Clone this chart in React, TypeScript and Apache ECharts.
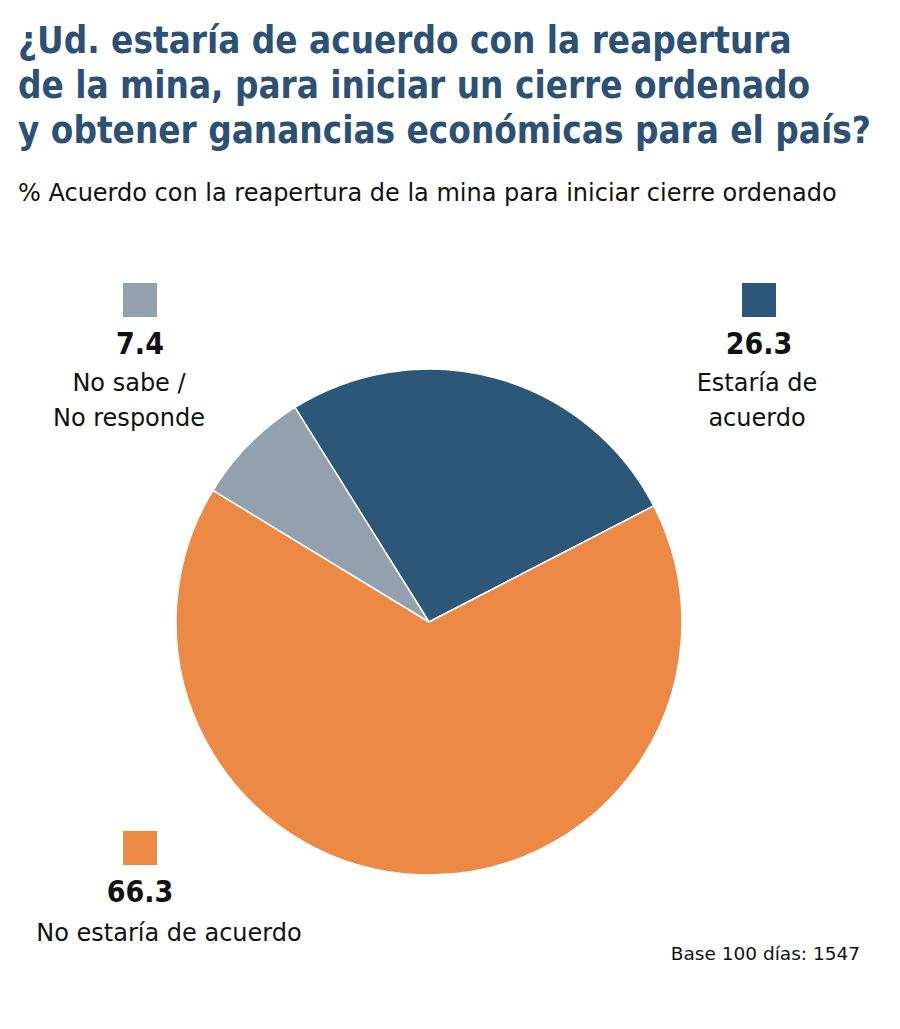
import React, { useEffect, useRef } from "react";
import * as echarts from "echarts";

const categories = ["Estaría de acuerdo", "No estaría de acuerdo", "No sabe / No responde"];
const values = [26.3, 66.3, 7.4];
const colors = ["#2c5779", "#ec8a45", "#93a1ae"];
const labelLines = [["Estaría de", "acuerdo"], ["No estaría de acuerdo"], ["No sabe /", "No responde"]];

const titleLines = [
  "¿Ud. estaría de acuerdo con la reapertura",
  "de la mina, para iniciar un cierre ordenado",
  "y obtener ganancias económicas para el país?",
];
const subtitle = "% Acuerdo con la reapertura de la mina para iniciar cierre ordenado";
const footnote = "Base 100 días: 1547";

const COND = "'DejaVu Sans Condensed', 'Liberation Sans Narrow', 'Roboto', sans-serif";
const REG = "'DejaVu Sans', sans-serif";

export default function App() {
  const ref = useRef<HTMLDivElement>(null);
  useEffect(() => {
    document.body.style.margin = "0";
    const chart = echarts.init(ref.current!, null, { renderer: "svg" });
    const legendPos = [
      { x: 759, sq: 283 },
      { x: 140, sq: 831 },
      { x: 140, sq: 283 },
    ];
    const graphics: any[] = [];
    titleLines.forEach((t, i) => {
      graphics.push({
        type: "text",
        x: 18,
        y: 40 + i * 45,
        style: { text: t, fill: "#2d5174", font: `bold 36.5px ${COND}`, verticalAlign: "middle" },
      });
    });
    graphics.push({
      type: "text",
      x: 18,
      y: 193,
      style: { text: subtitle, fill: "#111", font: `24px ${REG}`, verticalAlign: "middle" },
    });
    categories.forEach((c, i) => {
      const p = legendPos[i];
      graphics.push({
        type: "rect",
        shape: { x: p.x - 17, y: p.sq, width: 34, height: 34 },
        style: { fill: colors[i] },
      });
      graphics.push({
        type: "text",
        x: p.x,
        y: p.sq + 60,
        style: {
          text: values[i].toFixed(1),
          fill: "#111",
          font: `bold 30px ${COND}`,
          align: "center",
          verticalAlign: "middle",
        },
      });
      labelLines[i].forEach((l, j) => {
        graphics.push({
          type: "text",
          x: i === 1 ? 169 : i === 2 ? 129 : 757,
          y: p.sq + 100 + j * 35 + (i === 1 ? 2 : 0),
          style: {
            text: l,
            fill: "#111",
            font: `24px ${REG}`,
            align: "center",
            verticalAlign: "middle",
          },
        });
      });
    });
    graphics.push({
      type: "text",
      x: 860,
      y: 953,
      style: {
        text: footnote,
        fill: "#111",
        font: `18.5px ${REG}`,
        align: "right",
        verticalAlign: "middle",
      },
    });

    chart.setOption({
      animation: false,
      backgroundColor: "#fff",
      graphic: graphics,
      series: [
        {
          type: "pie",
          center: [429, 622],
          radius: 253,
          startAngle: 122,
          clockwise: true,
          label: { show: false },
          labelLine: { show: false },
          itemStyle: { borderColor: "#fff", borderWidth: 1.5 },
          emphasis: { disabled: true },
          data: categories.map((c, i) => ({
            name: c,
            value: values[i],
            itemStyle: { color: colors[i] },
          })),
        },
      ],
    });
    return () => chart.dispose();
  }, []);
  return <div ref={ref} style={{ width: 900, height: 1029 }} />;
}
